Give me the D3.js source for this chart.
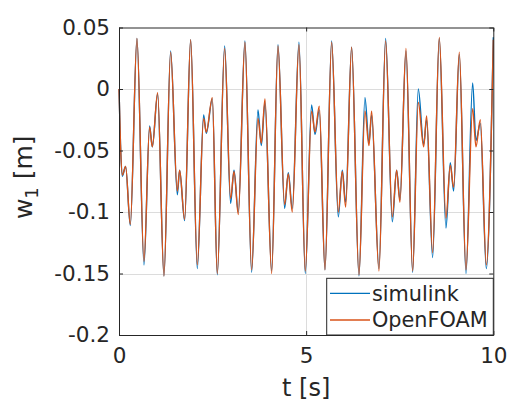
<!DOCTYPE html>
<html>
<head>
<meta charset="utf-8">
<script src="https://cdn.jsdelivr.net/npm/d3@7"></script>
<style>
  html, body { margin: 0; padding: 0; background: #fff; }
  svg { display: block; }
  text { font-family: "DejaVu Sans", sans-serif; fill: #262626; }
</style>
</head>
<body>
<script>
// Sample times [s] of the tip deflection record
const time = [
  0.00, 0.04, 0.088, 0.177, 0.302, 0.48, 0.667, 0.818, 0.890, 1.032,
  1.201, 1.379, 1.558, 1.620, 1.753, 1.914, 2.092, 2.261, 2.332, 2.493,
  2.626, 2.822, 2.982, 3.072, 3.187, 3.365, 3.543, 3.713, 3.802, 3.900,
  4.078, 4.247, 4.425, 4.523, 4.630, 4.808, 4.977, 5.146, 5.236, 5.351,
  5.503, 5.681, 5.859, 5.966, 6.055, 6.215, 6.411, 6.571, 6.678, 6.749,
  6.945, 7.123, 7.302, 7.417, 7.506, 7.667, 7.845, 7.996, 8.139, 8.219,
  8.379, 8.557, 8.735, 8.851, 8.940, 9.092, 9.270, 9.448, 9.537, 9.653,
  9.813, 10.0
];

// w_1 [m] from the Simulink model
const simulink = [
  0.000, -0.045, -0.071, -0.063, -0.111, 0.041, -0.143, -0.030, -0.047, -0.004,
  -0.152, 0.031, -0.086, -0.066, -0.107, 0.040, -0.146, -0.021, -0.036, -0.008,
  -0.151, 0.035, -0.093, -0.066, -0.100, 0.039, -0.149, -0.017, -0.046, -0.011,
  -0.148, 0.036, -0.097, -0.068, -0.097, 0.038, -0.150, -0.013, -0.037, -0.017,
  -0.147, 0.039, -0.104, -0.066, -0.092, 0.034, -0.152, -0.007, -0.044, -0.021,
  -0.146, 0.041, -0.108, -0.066, -0.090, 0.031, -0.149, 0.000, -0.045, -0.025,
  -0.137, 0.041, -0.113, -0.060, -0.083, 0.028, -0.150, 0.005, -0.042, -0.028,
  -0.146, 0.042
];

// w_1 [m] from the OpenFOAM run
const openfoam = [
  0.000, -0.045, -0.070, -0.063, -0.110, 0.041, -0.140, -0.031, -0.047, -0.003,
  -0.152, 0.030, -0.083, -0.066, -0.106, 0.040, -0.143, -0.024, -0.035, -0.007,
  -0.150, 0.033, -0.089, -0.067, -0.102, 0.038, -0.147, -0.024, -0.044, -0.008,
  -0.150, 0.035, -0.094, -0.069, -0.100, 0.036, -0.148, -0.018, -0.035, -0.014,
  -0.147, 0.038, -0.100, -0.067, -0.096, 0.034, -0.151, -0.018, -0.046, -0.018,
  -0.148, 0.039, -0.104, -0.066, -0.092, 0.033, -0.148, -0.011, -0.047, -0.022,
  -0.133, 0.042, -0.105, -0.062, -0.080, 0.030, -0.147, -0.016, -0.047, -0.025,
  -0.143, 0.040
];

const xTicks = [0, 5, 10];
const xTickLabels = ["0", "5", "10"];
const yTicks = [0.05, 0, -0.05, -0.1, -0.15, -0.2];
const yTickLabels = ["0.05", "0", "-0.05", "-0.1", "-0.15", "-0.2"];
const seriesNames = ["simulink", "OpenFOAM"];
const seriesColors = ["#0072BD", "#D95319"];

const W = 511, H = 403;
const plotL = 119, plotR = 493.3, plotT = 27.5, plotB = 335;

const svg = d3.select("body").append("svg")
  .attr("width", W).attr("height", H);
svg.append("rect").attr("width", W).attr("height", H).attr("fill", "#fff");

const x = d3.scaleLinear().domain([0, 10]).range([plotL, plotR]);
const y = d3.scaleLinear().domain([-0.2, 0.05]).range([plotB, plotT]);

// grid
const grid = svg.append("g").attr("stroke", "#dcdcdc").attr("stroke-width", 1);
grid.selectAll(".gy").data(yTicks.slice(1, -1)).join("line")
  .attr("x1", plotL).attr("x2", plotR)
  .attr("y1", d => Math.round(y(d)) + 0.5).attr("y2", d => Math.round(y(d)) + 0.5);
grid.selectAll(".gx").data(xTicks.slice(1, -1)).join("line")
  .attr("y1", plotT).attr("y2", plotB)
  .attr("x1", d => Math.round(x(d)) + 0.5).attr("x2", d => Math.round(x(d)) + 0.5);

// data lines
const series = [simulink, openfoam];
const line = d3.line()
  .x((d, i) => x(time[i]))
  .y(d => y(d))
  .curve(d3.curveMonotoneX);
svg.append("g").selectAll("path").data(series).join("path")
  .attr("d", d => line(d))
  .attr("fill", "none")
  .attr("stroke", (d, i) => seriesColors[i])
  .attr("stroke-width", 1.4)
  .attr("stroke-linejoin", "round");

// axes (MATLAB style: inward ticks on all four sides)
const fmtY = d => yTickLabels[yTicks.indexOf(d)];
const fmtX = d => xTickLabels[xTicks.indexOf(d)];

const axL = svg.append("g").attr("transform", `translate(${plotL},0)`)
  .call(d3.axisLeft(y).tickValues(yTicks).tickFormat(fmtY).tickSizeInner(-4).tickSizeOuter(0).tickPadding(9));
const axB = svg.append("g").attr("transform", `translate(0,${plotB})`)
  .call(d3.axisBottom(x).tickValues(xTicks).tickFormat(fmtX).tickSizeInner(-4).tickSizeOuter(0).tickPadding(13));
const axT = svg.append("g").attr("transform", `translate(0,${plotT})`)
  .call(d3.axisTop(x).tickValues(xTicks).tickFormat("").tickSizeInner(-4).tickSizeOuter(0));
const axR = svg.append("g").attr("transform", `translate(${plotR},0)`)
  .call(d3.axisRight(y).tickValues(yTicks).tickFormat("").tickSizeInner(-4).tickSizeOuter(0));

[axL, axB, axT, axR].forEach(g => {
  g.select(".domain").attr("stroke", "#262626").attr("stroke-width", 1);
  g.selectAll(".tick line").attr("stroke", "#262626");
  g.selectAll("text").style("font-family", "DejaVu Sans, sans-serif")
    .style("font-size", "21.5px").attr("fill", "#262626");
});

// axis labels
svg.append("text")
  .attr("x", (plotL + plotR) / 2).attr("y", 396)
  .attr("text-anchor", "middle").style("font-size", "24px")
  .text("t [s]");

const yl = svg.append("text")
  .attr("transform", `translate(32,${(plotT + plotB) / 2 - 4}) rotate(-90)`)
  .attr("text-anchor", "middle").style("font-size", "25px");
yl.append("tspan").text("w");
yl.append("tspan").attr("dy", 6).style("font-size", "18px").text("1");
yl.append("tspan").attr("dy", -6).text(" [m]");

// legend
const lg = svg.append("g");
lg.append("rect")
  .attr("x", 326.7).attr("y", 278.3).attr("width", plotR - 326.7).attr("height", plotB - 278.3)
  .attr("fill", "#fff").attr("stroke", "#262626").attr("stroke-width", 1);
const rowY = [293.3, 320];
seriesNames.forEach((name, i) => {
  lg.append("line").attr("x1", 330).attr("x2", 370)
    .attr("y1", rowY[i]).attr("y2", rowY[i])
    .attr("stroke", seriesColors[i]).attr("stroke-width", 1.3);
  lg.append("text").attr("x", 372).attr("y", rowY[i])
    .attr("dy", "0.36em").style("font-size", "20.8px").text(name);
});
</script>
</body>
</html>
